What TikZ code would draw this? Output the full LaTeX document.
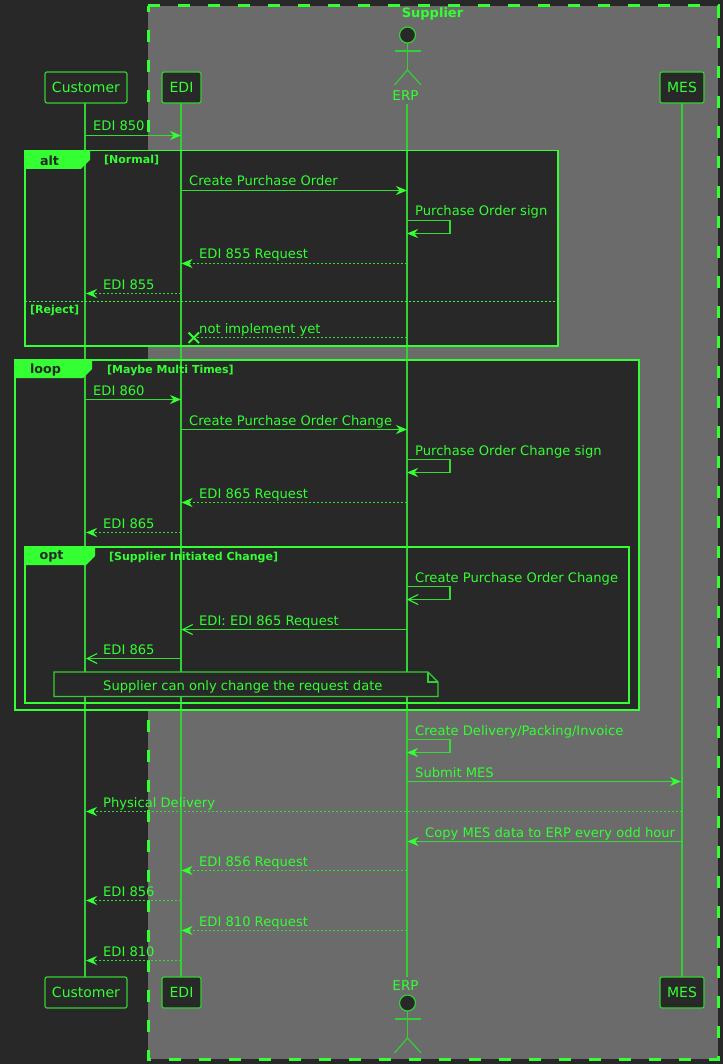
\documentclass[tikz,border=0pt]{standalone}
\usepackage{fontspec}
\setmainfont{DejaVu Sans}
\usetikzlibrary{arrows.meta}
\definecolor{bgdark}{HTML}{282828}
\definecolor{boxgrey}{HTML}{6B6B6B}
\definecolor{bright}{HTML}{33FF33}
\definecolor{lifecol}{HTML}{33D033}
\definecolor{linecol}{HTML}{33DD33}
\tikzset{
  lifeline/.style={draw=lifecol,line width=1.5pt},
  participant/.style={draw=lifecol,fill=bgdark,rounded corners=2pt,line width=1.2pt,text=bright,minimum height=31pt,inner sep=0pt,font=\fontsize{14}{16}\selectfont},
  actorlabel/.style={text=bright,inner sep=0pt,font=\fontsize{13.5}{16}\selectfont},
  msgtext/.style={text=bright,anchor=base west,inner sep=0pt,font=\fontsize{13.1}{15}\selectfont},
  guardtext/.style={text=bright,anchor=base west,inner sep=0pt,font=\bfseries\fontsize{11}{13}\selectfont},
  tabtext/.style={text=bgdark,inner sep=0pt,font=\bfseries\fontsize{12.7}{15}\selectfont},
  solidmsg/.style={draw=linecol,line width=1.1pt,-{Stealth[length=11pt,width=9pt,inset=3.5pt,fill=bright,color=bright]}},
  dotmsg/.style={solidmsg,line width=1.2pt,dash pattern=on 2pt off 2pt},
  openmsg/.style={draw=linecol,line width=1.1pt,-{Straight Barb[length=10pt,width=10pt,color=bright]}},
  framefill/.style={fill=bgdark,draw=none},
  framestroke/.style={draw=bright,line width=1.4pt},
  actorline/.style={draw=lifecol,line width=1.2pt},
}
\newcommand{\Msg}[7]{% style,name,x1,x2,y,labelx,text
  \coordinate (#2a) at (#3,#5+0.5);
  \coordinate (#2b) at (#4,#5+0.5);
  \draw[#1] (#2a) -- (#2b);
  \node[msgtext] (#2t) at (#6,#5-4) {#7};
}
\newcommand{\SelfMsg}[4]{% style,name,y,text
  \coordinate (#2a) at (407,#3+0.5);
  \coordinate (#2c) at (450,#3+0.5);
  \coordinate (#2d) at (450,#3+13.5);
  \coordinate (#2b) at (407,#3+13.5);
  \draw[#1] (#2a) -- (#2c) -- (#2d) -- (#2b);
  \node[msgtext] (#2t) at (415,#3-4) {#4};
}
\newcommand{\Tab}[7]{% name,x1,y1,x2,label,labelcx,guard
  \fill[bright] (#2,#3) -- (#4,#3) -- (#4,#3+9) -- (#4-9,#3+18) -- (#2,#3+18) -- cycle;
  \node[tabtext] (#1tab) at (#6,#3+9.5) {#5};
}
\newcommand{\Actor}[2]{% cy of head, name
  \draw[actorline,fill=bgdark] (407.5,#1) circle (8pt);
  \draw[actorline] (407.5,#1+8) -- (407.5,#1+35);
  \draw[actorline] (394.5,#1+16) -- (421,#1+16);
  \draw[actorline] (394.5,#1+50) -- (407.5,#1+35) -- (421,#1+50);
}
\begin{document}
\begin{tikzpicture}[x=1pt,y=-1pt]
\useasboundingbox (0,0) rectangle (723,1064);
\fill[bgdark] (0,0) rectangle (723,1064);
% supplier box
\fill[boxgrey] (148,6) rectangle (718,1059);
\draw[draw=bright,line width=3pt,dash pattern=on 12pt off 18pt] (148,6) -- (718,6) -- (718,1059) -- (148,1059) -- cycle;
\node[text=bright,inner sep=0pt,font=\bfseries\fontsize{13}{15}\selectfont] (supplier) at (432.5,14) {Supplier};
% frame fills
\fill[framefill] (25,151) rectangle (558,346);
\fill[framefill] (15,360) rectangle (638,710);
% participants
\node[participant,minimum width=82pt] (custTop) at (86,87.5) {Customer};
\node[participant,minimum width=39pt] (ediTop) at (181.5,87.5) {EDI};
\node[participant,minimum width=44pt] (mesTop) at (682,87.5) {MES};
\node[participant,minimum width=82pt] (custBot) at (86,992.5) {Customer};
\node[participant,minimum width=39pt] (ediBot) at (181.5,992.5) {EDI};
\node[participant,minimum width=44pt] (mesBot) at (682,992.5) {MES};
\node[actorlabel] (erpTop) at (405.5,96) {ERP};
\node[actorlabel] (erpBot) at (405.5,986) {ERP};
\Actor{35}{erpa}
\Actor{1003}{erpb}
% lifelines
\coordinate (custS) at (85,103.5);
\coordinate (custE) at (85,977);
\coordinate (ediS) at (181,103.5);
\coordinate (ediE) at (181,977);
\coordinate (erpS) at (407.2,104);
\coordinate (erpE) at (407.2,977);
\coordinate (mesS) at (682,103.5);
\coordinate (mesE) at (682,977);
\draw[lifeline] (custS) -- (custE);
\draw[lifeline] (ediS) -- (ediE);
\draw[lifeline] (erpS) -- (erpE);
\draw[lifeline] (mesS) -- (mesE);
% frames
\draw[framestroke] (24.8,150.8) rectangle (557.8,345.8);
\draw[framestroke] (14.8,359.8) rectangle (638.8,709.8);
\draw[framestroke] (24.8,546.8) rectangle (628.8,702.8);
\draw[draw=bright,line width=1pt,dash pattern=on 2pt off 2pt] (25,301.5) -- (558,301.5);
\Tab{alt}{25}{151}{90}{alt}{49.5}{}
\Tab{loop}{15}{360}{92}{loop}{45.5}{}
\Tab{opt}{25}{547}{95}{opt}{51.5}{}
\node[guardtext] (g1) at (104,164) {[Normal]};
\node[guardtext] (g2) at (30,313.5) {[Reject]};
\node[guardtext] (g3) at (107,373) {[Maybe Multi Times]};
\node[guardtext] (g4) at (109,560) {[Supplier Initiated Change]};
% messages
\Msg{solidmsg}{m1}{85.5}{181}{135}{93}{EDI 850}
\Msg{solidmsg}{m2}{181.5}{407}{190}{189}{Create Purchase Order}
\SelfMsg{solidmsg}{m3}{220}{Purchase Order sign}
\Msg{dotmsg}{m4}{407}{181.5}{263}{199}{EDI 855 Request}
\Msg{dotmsg}{m5}{181}{86}{293}{103}{EDI 855}
\Msg{draw=linecol,line width=1.2pt,dash pattern=on 2pt off 2pt}{m6}{407}{194}{337}{199}{not implement yet}
\coordinate (xa) at (188.5,332.5);
\coordinate (xb) at (199,343);
\coordinate (xc) at (188.5,343);
\coordinate (xd) at (199,332.5);
\draw[draw=bright,line width=2pt] (xa) -- (xb);
\draw[draw=bright,line width=2pt] (xc) -- (xd);
\Msg{solidmsg}{m7}{85.5}{181}{399}{93}{EDI 860}
\Msg{solidmsg}{m8}{181.5}{407}{429}{189}{Create Purchase Order Change}
\SelfMsg{solidmsg}{m9}{459}{Purchase Order Change sign}
\Msg{dotmsg}{m10}{407}{181.5}{502}{199}{EDI 865 Request}
\Msg{dotmsg}{m11}{181}{86}{532}{103}{EDI 865}
\SelfMsg{openmsg}{m12}{586}{Create Purchase Order Change}
\Msg{openmsg}{m13}{407}{181.5}{629}{199}{EDI: EDI 865 Request}
\Msg{openmsg}{m14}{181}{86}{658}{103}{EDI 865}
% note
\draw[draw=lifecol,line width=1.2pt,fill=bgdark] (54,672) -- (428,672) -- (438,682) -- (438,696.5) -- (54,696.5) -- cycle;
\draw[draw=lifecol,line width=1.2pt] (428,672) -- (428,682) -- (438,682);
\node[msgtext] (note) at (103,690) {Supplier can only change the request date};
\SelfMsg{solidmsg}{m15}{739}{Create Delivery/Packing/Invoice}
\Msg{solidmsg}{m16}{407}{681}{781}{415}{Submit MES}
\Msg{dotmsg}{m17}{682}{86}{811}{103}{Physical Delivery}
\Msg{solidmsg}{m18}{682}{407.5}{841}{425}{Copy MES data to ERP every odd hour}
\Msg{dotmsg}{m19}{407}{181.5}{870}{199}{EDI 856 Request}
\Msg{dotmsg}{m20}{181}{86}{900}{103}{EDI 856}
\Msg{dotmsg}{m21}{407}{181.5}{930}{199}{EDI 810 Request}
\Msg{dotmsg}{m22}{181}{86}{960}{103}{EDI 810}
\end{tikzpicture}
\end{document}
